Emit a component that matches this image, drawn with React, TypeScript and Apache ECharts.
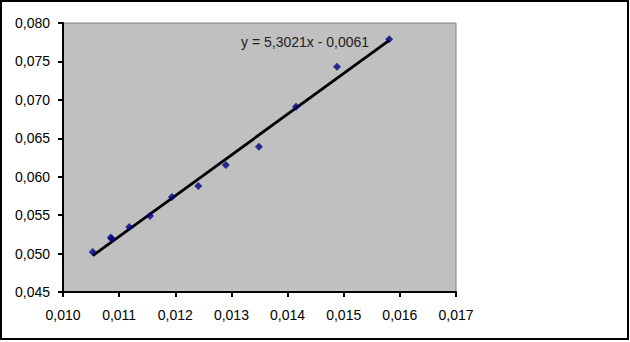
import React, { useEffect, useRef } from "react";
import * as echarts from "echarts";

const xValues = [0.01053, 0.01085, 0.01087, 0.01118, 0.01155, 0.01194, 0.01241, 0.0129, 0.01349, 0.01415, 0.01488, 0.01581];
const yValues = [0.0502, 0.0521, 0.0519, 0.05346, 0.05489, 0.05736, 0.05879, 0.06152, 0.06391, 0.06911, 0.07432, 0.07788];
const trendSlope = 5.3021;
const trendIntercept = -0.0061;
const equationText = "y = 5,3021x - 0,0061";
const xMin = 0.01, xMax = 0.017, xStep = 0.001;
const yMin = 0.045, yMax = 0.08, yStep = 0.005;

const fmt = (v: number) => v.toFixed(3).replace(".", ",");

export default function App() {
  const ref = useRef<HTMLDivElement>(null);
  useEffect(() => {
    document.body.style.margin = "0";
    const chart = echarts.init(ref.current!, null, { renderer: "svg" });
    const pts = xValues.map((x, i) => [x, yValues[i]]);
    const lo = Math.min(...xValues);
    const hi = Math.max(...xValues);
    const trend = [lo, hi].map((x) => [x, trendSlope * x + trendIntercept]);
    const font = "'Liberation Sans', Arial, sans-serif";
    chart.setOption({
      animation: false,
      backgroundColor: "#ffffff",
      grid: {
        left: 63, top: 23, width: 393, height: 269,
        show: true, backgroundColor: "#C0C0C0", borderColor: "#808080", borderWidth: 1,
      },
      xAxis: {
        type: "value", min: xMin, max: xMax, interval: xStep,
        axisLine: { show: true, onZero: false, lineStyle: { color: "#000", width: 2 } },
        axisTick: { show: true, length: 5, lineStyle: { color: "#000", width: 2 } },
        splitLine: { show: false },
        axisLabel: { formatter: fmt, color: "#000", fontSize: 14, fontFamily: font, margin: 16 },
      },
      yAxis: {
        type: "value", min: yMin, max: yMax, interval: yStep,
        axisLine: { show: true, onZero: false, lineStyle: { color: "#000", width: 2 } },
        axisTick: { show: true, length: 5, lineStyle: { color: "#000", width: 2 } },
        splitLine: { show: false },
        axisLabel: { formatter: fmt, color: "#000", fontSize: 14, fontFamily: font, margin: 13 },
      },
      series: [
        {
          type: "line", data: trend, symbol: "none",
          lineStyle: { color: "#000", width: 2.8 }, z: 2,
        },
        {
          type: "scatter", data: pts, symbol: "diamond", symbolSize: 8,
          itemStyle: { color: "#000080" }, z: 3,
        },
      ],
      graphic: [
        {
          type: "text", left: 241, top: 35,
          style: { text: equationText, fill: "#222", font: `14px ${font}` },
        },
        {
          type: "rect", shape: { x: 1, y: 1, width: 627, height: 338 },
          style: { fill: "none", stroke: "#000", lineWidth: 2 }, silent: true,
        },
      ],
    });
    return () => chart.dispose();
  }, []);
  return <div ref={ref} style={{ width: 630, height: 342 }} />;
}
